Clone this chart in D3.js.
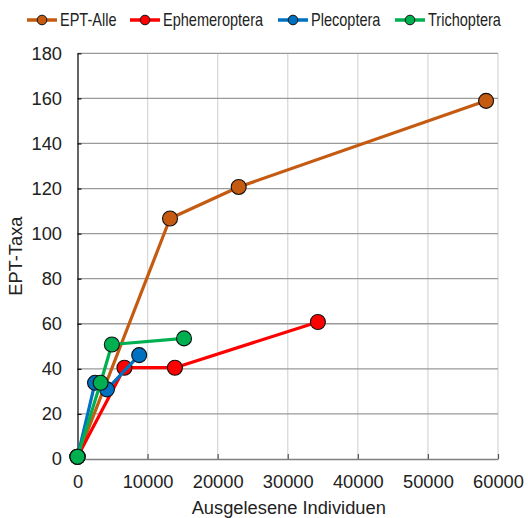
<!DOCTYPE html>
<html><head><meta charset="utf-8">
<script src="https://cdn.jsdelivr.net/npm/d3@7"></script>
<style>body{margin:0;background:#fff}svg{display:block}text{font-family:"Liberation Sans",Arial,sans-serif;fill:#222}</style>
</head><body><svg id="c" width="528" height="518"></svg>
<script>
const seriesNames = ["EPT-Alle","Ephemeroptera","Plecoptera","Trichoptera"];
const seriesColors = ["#C55A11","#FF0000","#0070C0","#00B050"];
const eptX = [0, 13200, 23000, 58300];
const eptY = [1, 106.7, 120.7, 158.9];
const ephX = [0, 6700, 13900, 34300];
const ephY = [1, 40.5, 40.5, 60.8];
const pleX = [0, 2500, 4200, 8800];
const pleY = [1, 33.8, 30.9, 46.1];
const triX = [0, 3300, 4900, 15200];
const triY = [1, 33.8, 50.8, 53.5];
const xTicks = [0,10000,20000,30000,40000,50000,60000];
const yTicks = [0,20,40,60,80,100,120,140,160,180];
const xTitle = "Ausgelesene Individuen";
const yTitle = "EPT-Taxa";

const series = [[eptX,eptY],[ephX,ephY],[pleX,pleY],[triX,triY]].map((s,i)=>({
  name: seriesNames[i], color: seriesColors[i], pts: s[0].map((x,j)=>({x, y:s[1][j]}))
}));

const svg = d3.select("#c");
const x = d3.scaleLinear().domain([0,60000]).range([77.5,498]);
const y = d3.scaleLinear().domain([0,180]).range([459,53.3]);
const FS = "18.3px";

// vertical gridlines
svg.append("g").selectAll("line").data(xTicks.slice(1)).join("line")
  .attr("x1",d=>x(d)).attr("x2",d=>x(d)).attr("y1",y(0)).attr("y2",y(180))
  .attr("stroke","#d9d9d9").attr("stroke-width",1.3);
// horizontal gridlines
svg.append("g").selectAll("line").data(yTicks.slice(1)).join("line")
  .attr("x1",x(0)).attr("x2",x(60000)).attr("y1",d=>y(d)).attr("y2",d=>y(d))
  .attr("stroke","#9a9a9a").attr("stroke-width",1.3);

// x axis
const xa = svg.append("g").attr("transform",`translate(0,${y(0)})`)
  .call(d3.axisBottom(x).tickValues(xTicks).tickFormat(d3.format("d")).tickSizeInner(-5).tickSizeOuter(0).tickPadding(16));
xa.select(".domain").attr("stroke","#7f7f7f").attr("stroke-width",1.5);
xa.selectAll(".tick line").attr("stroke","#555").attr("stroke-width",1.2);
xa.selectAll("text").attr("font-size",FS).attr("fill","#222").style("font-family","Liberation Sans, Arial");

// y axis
const ya = svg.append("g").attr("transform",`translate(${x(0)},0)`)
  .call(d3.axisLeft(y).tickValues(yTicks).tickSizeInner(-4).tickSizeOuter(0).tickPadding(15.5));
ya.select(".domain").attr("stroke","#111").attr("stroke-width",1.3);
ya.selectAll(".tick line").attr("stroke","#111").attr("stroke-width",1.2);
ya.selectAll("text").attr("font-size",FS).attr("fill","#222").style("font-family","Liberation Sans, Arial");

// titles
svg.append("text").attr("x",(x(0)+x(60000))/2+1).attr("y",514).attr("text-anchor","middle")
  .attr("font-size",FS).text(xTitle);
svg.append("text").attr("transform",`translate(22,${(y(0)+y(180))/2}) rotate(-90)`).attr("text-anchor","middle")
  .attr("font-size",FS).text(yTitle);

// series
const line = d3.line().x(d=>x(d.x)).y(d=>y(d.y));
series.forEach(s=>{
  const g = svg.append("g");
  g.append("path").datum(s.pts).attr("d",line).attr("fill","none").attr("stroke",s.color).attr("stroke-width",3.2).attr("stroke-linejoin","round");
  g.selectAll("circle").data(s.pts).join("circle").attr("cx",d=>x(d.x)).attr("cy",d=>y(d.y)).attr("r",7.5)
    .attr("fill",s.color).attr("stroke","#111").attr("stroke-width",1.1);
});

// legend
const legX = [27,130,278,395];
const lg = svg.append("g");
series.forEach((s,i)=>{
  const gx = legX[i];
  lg.append("line").attr("x1",gx).attr("x2",gx+30).attr("y1",20).attr("y2",20).attr("stroke",s.color).attr("stroke-width",3.5);
  lg.append("circle").attr("cx",gx+15).attr("cy",20).attr("r",4.8).attr("fill",s.color).attr("stroke","#111").attr("stroke-width",1);
  lg.append("text").attr("transform",`translate(${gx+33},25.5) scale(0.83,1)`).attr("font-size","17.5px").text(s.name);
});
</script></body></html>
